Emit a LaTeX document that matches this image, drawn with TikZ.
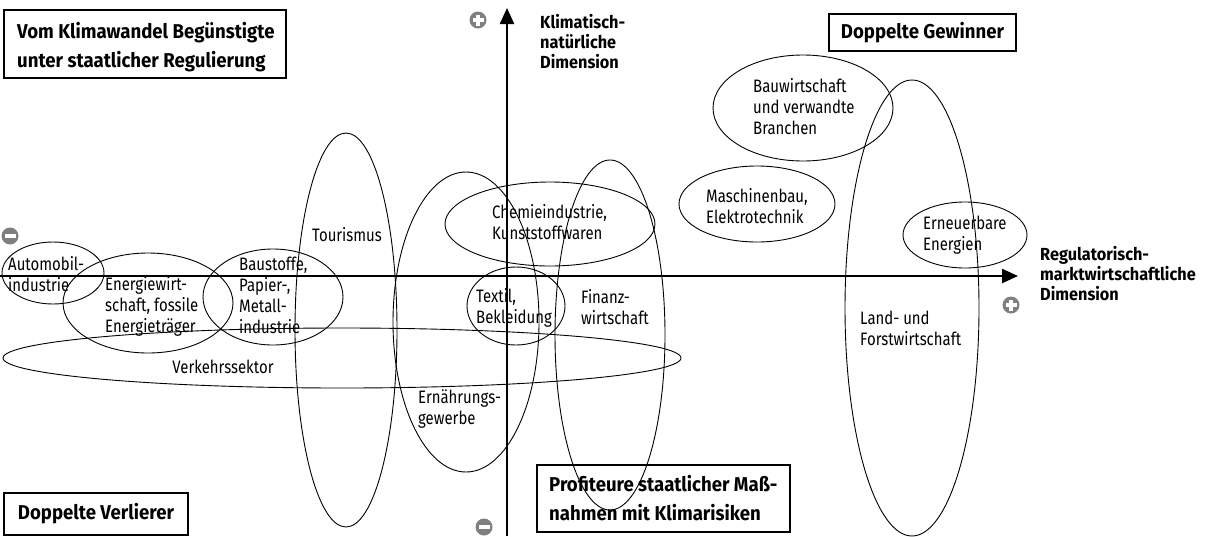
\documentclass[tikz,border=0pt]{standalone}
\usepackage{fontspec}
\setmainfont{Fira Sans}[FakeStretch=0.83, BoldFeatures={FakeStretch=0.93}]
\usetikzlibrary{arrows.meta}
\begin{document}
\begin{tikzpicture}[x=1pt,y=-1pt,
  region/.style={draw=black, line width=0.9pt},
  lbl/.style={font=\fontsize{18}{21}\selectfont, align=left, inner sep=0pt, anchor=west},
  frame/.style={draw=black, line width=1.4pt},
  quad/.style={font=\bfseries\fontsize{20}{29}\selectfont, align=left, inner sep=0pt, anchor=west},
  axlbl/.style={font=\bfseries\fontsize{17.5}{20}\selectfont, align=left, inner sep=0pt, anchor=west},
  axis/.style={line width=2.4pt, -{Triangle[length=16pt,width=14pt]}},
  icon/.style={fill=black!50, draw=none}]
\useasboundingbox (0,0) rectangle (1206,536);
% axes
\coordinate (xs) at (0,276);
\coordinate (xe) at (1018,276);
\coordinate (ys) at (507,536);
\coordinate (ye) at (507,8);
\draw[axis] (xs) -- (xe);
\draw[axis] (ys) -- (ye);
% icons
\foreach \n/\cx/\cy/\p in {ip/478/20/1, ir/1011/305/1, il/10/236/0, ib/484/527/0}{
  \fill[icon] (\cx,\cy) circle (8.5);
  \fill[white] (\cx-5.5,\cy-2) rectangle (\cx+5.5,\cy+2);
  \ifnum\p=1 \fill[white] (\cx-2,\cy-5.5) rectangle (\cx+2,\cy+5.5); \fi
}
% ellipses
\draw[region] (53,273) ellipse [x radius=51, y radius=31];
\draw[region] (148,303) ellipse [x radius=85, y radius=50];
\draw[region] (273,297) ellipse [x radius=70, y radius=48];
\draw[region] (342,358) ellipse [x radius=339, y radius=30];
\draw[region] (346,330) ellipse [x radius=51, y radius=197];
\draw[region] (466,322) ellipse [x radius=73, y radius=150];
\draw[region] (550,224) ellipse [x radius=105, y radius=42];
\draw[region] (516,306) ellipse [x radius=49, y radius=39];
\draw[region] (610,335) ellipse [x radius=55, y radius=175];
\draw[region] (803,108) ellipse [x radius=90, y radius=53];
\draw[region] (757,204) ellipse [x radius=78, y radius=38];
\draw[region] (965,235) ellipse [x radius=62, y radius=33];
\draw[region] (912,308) ellipse [x radius=67, y radius=228];
% labels
\node[lbl] (auto) at (8,274.5) {Automobil-\\industrie};
\node[lbl] (energ) at (105,306) {Energiewirt-\\schaft, fossile\\Energieträger};
\node[lbl] (baust) at (239,295.5) {Baustoffe,\\Papier-,\\Metall-\\industrie};
\node[lbl, anchor=center] (verk) at (223,367) {Verkehrssektor};
\node[lbl, anchor=center] (tour) at (347,235) {Tourismus};
\node[lbl] (ernae) at (418,408.5) {Ernährungs-\\gewerbe};
\node[lbl] (chemie) at (492,222.5) {Chemieindustrie,\\Kunststoffwaren};
\node[lbl] (textil) at (476,307.5) {Textil,\\Bekleidung};
\node[lbl] (finanz) at (581,307.5) {Finanz-\\wirtschaft};
\node[lbl] (bau) at (753,107) {Bauwirtschaft\\und verwandte\\Branchen};
\node[lbl] (masch) at (706,206.5) {Maschinenbau,\\Elektrotechnik};
\node[lbl] (erneu) at (923,235.5) {Erneuerbare\\Energien};
\node[lbl] (land) at (860,328.5) {Land- und\\Forstwirtschaft};
% quadrant boxes
\draw[frame] (4,10) rectangle (286,78);
\node[quad] (q1) at (17,47.5) {Vom Klimawandel Begünstigte\\unter staatlicher Regulierung};
\draw[frame] (829,14) rectangle (1016,51);
\node[quad, anchor=center] (q2) at (922.5,33) {Doppelte Gewinner};
\draw[frame] (537,465) rectangle (790,532);
\node[quad] (q3) at (549,498) {Profiteure staatlicher Maß-\\nahmen mit Klimarisiken};
\draw[frame] (4,493) rectangle (188,535);
\node[quad, anchor=center] (q4) at (96,514) {Doppelte Verlierer};
% axis labels
\node[axlbl] (yl) at (540,42) {Klimatisch-\\natürliche\\Dimension};
\node[axlbl] (xl) at (1040,274) {Regulatorisch-\\marktwirtschaftliche\\Dimension};
\end{tikzpicture}
\end{document}
